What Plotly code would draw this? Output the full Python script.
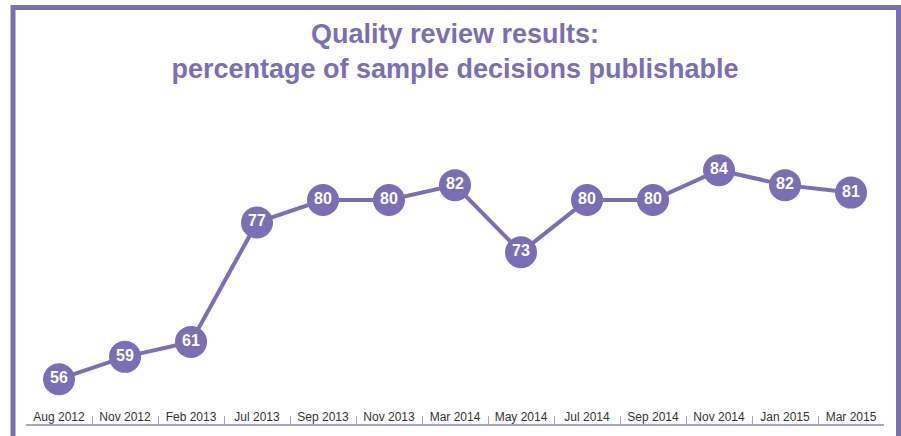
import plotly.graph_objects as go

# Review dates and the share of sample decisions judged publishable (%)
review_dates = ['Aug 2012', 'Nov 2012', 'Feb 2013', 'Jul 2013', 'Sep 2013', 'Nov 2013',
                'Mar 2014', 'May 2014', 'Jul 2014', 'Sep 2014', 'Nov 2014', 'Jan 2015', 'Mar 2015']
publishable_pct = [56, 59, 61, 77, 80, 80, 82, 73, 80, 80, 84, 82, 81]

PURPLE = '#7A6FB5'
W, H = 901, 436

fig = go.Figure()

fig.add_trace(go.Scatter(
    x=review_dates,
    y=publishable_pct,
    mode='lines+markers+text',
    text=[str(v) for v in publishable_pct],
    textposition='middle center',
    textfont=dict(family='Liberation Sans, Arial', size=16, color='white'),
    texttemplate='<b>%{text}</b>',
    line=dict(color=PURPLE, width=4),
    marker=dict(size=32, color=PURPLE, line=dict(width=0)),
    hoverinfo='x+y',
    showlegend=False,
))

# purple frame round the chart (open at the bottom edge of the picture)
fig.add_shape(type='rect', xref='paper', yref='paper',
              x0=13 / W, x1=898.5 / W, y0=-0.1, y1=1 - 7.5 / H,
              line=dict(color=PURPLE, width=5), fillcolor='rgba(0,0,0,0)', layer='below')

fig.update_layout(
    width=W, height=H,
    margin=dict(l=0, r=0, t=0, b=0),
    paper_bgcolor='white',
    plot_bgcolor='white',
    title=dict(text='<b>Quality review results:<br>percentage of sample decisions publishable</b>',
               x=0.505, xanchor='center', y=1 - 43 / H, yanchor='middle',
               font=dict(family='Liberation Sans, Arial', size=27, color=PURPLE)),
    xaxis=dict(
        domain=[26 / W, 884 / W],
        range=[-0.5, 12.5],
        showgrid=False, zeroline=False,
        showline=True, linecolor='#A8A2D2', linewidth=1.5,
        ticks='inside', tickson='boundaries', ticklen=8, tickwidth=1.2, tickcolor='#A8A2D2',
        ticklabelposition='inside', ticklabelstandoff=-8,
        tickfont=dict(family='Liberation Sans, Arial', size=12, color='#333333'),
        fixedrange=True,
    ),
    yaxis=dict(
        domain=[12 / H, 1],
        range=[50, 106.8],
        visible=False, showgrid=False, zeroline=False,
        fixedrange=True,
    ),
)

# the page's default 8px body margin would shift the whole chart, so drop it
fig.write_html('out.html', config={'displayModeBar': False},
               post_script="document.body.style.margin='0';")
